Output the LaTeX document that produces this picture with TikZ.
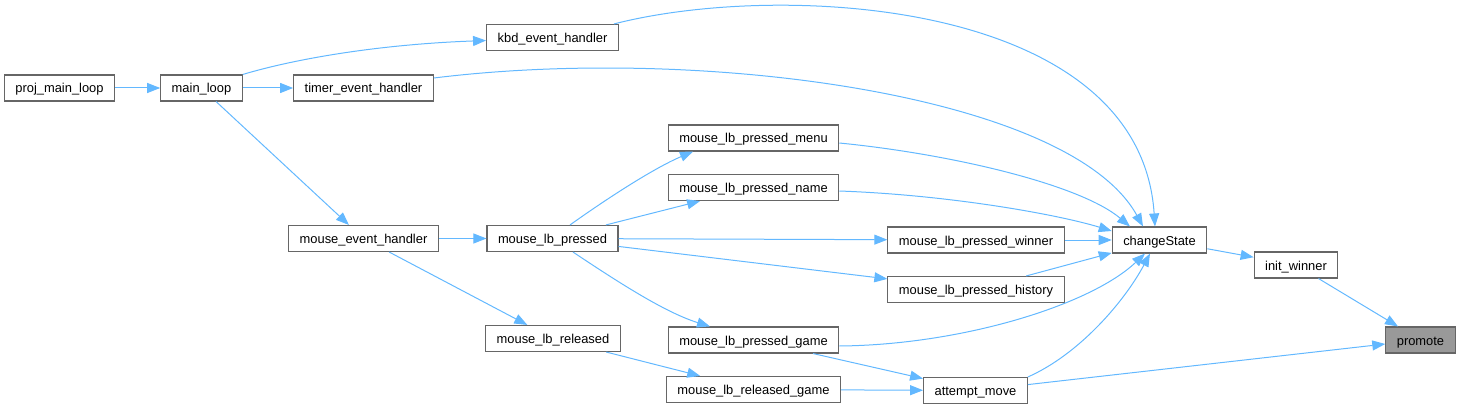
\documentclass[tikz,border=0pt]{standalone}
\usepackage{fontspec}
\setmainfont{Liberation Sans}
\usepackage{tikz}
\usetikzlibrary{arrows.meta}

\begin{document}
\begin{tikzpicture}[x=1pt, y=1pt, font=\fontsize{12.9}{15}\selectfont]

\definecolor{cgedge}{HTML}{63B8FF}
\definecolor{cgborder}{HTML}{666666}
\definecolor{cgfill}{HTML}{FFFFFF}
\definecolor{cgself}{HTML}{999999}

\tikzset{
  fnbox/.style={
    rectangle, draw=cgborder, fill=cgfill, line width=1.1pt,
    minimum height=26pt, inner xsep=11pt, inner ysep=0pt,
    text height=13pt, text depth=3pt
  },
  selfbox/.style={fnbox, fill=cgself},
  calledge/.style={
    draw=cgedge, line width=1pt, -{Triangle[length=13pt,width=10pt]}
  }
}

\useasboundingbox (0,0) rectangle (1460,-409);

% Callers, left to right.
\node[fnbox] (pml)  at (59.5,-88)    {proj\_main\_loop};
\node[fnbox] (ml)   at (201.5,-88)   {main\_loop};
\node[fnbox] (teh)  at (363.5,-88)   {timer\_event\_handler};
\node[fnbox] (keh)  at (552.5,-37.5) {kbd\_event\_handler};
\node[fnbox] (meh)  at (363.5,-238.5) {mouse\_event\_handler};
\node[fnbox] (mlp)  at (552.5,-238.5) {mouse\_lb\_pressed};
\node[fnbox] (mlr)  at (553,-338.5)  {mouse\_lb\_released};
\node[fnbox] (mlpm) at (753.5,-138)  {mouse\_lb\_pressed\_menu};
\node[fnbox] (mlpn) at (753.5,-187.5) {mouse\_lb\_pressed\_name};
\node[fnbox] (mlpg) at (753.5,-340)  {mouse\_lb\_pressed\_game};
\node[fnbox] (mlrg) at (753.5,-389.5) {mouse\_lb\_released\_game};
\node[fnbox] (mlpw) at (976,-240)    {mouse\_lb\_pressed\_winner};
\node[fnbox] (mlph) at (976,-289.5)  {mouse\_lb\_pressed\_history};
\node[fnbox] (am)   at (975.5,-390.5) {attempt\_move};
\node[fnbox] (cs)   at (1159.5,-240) {changeState};
\node[fnbox] (iw)   at (1296,-265)   {init\_winner};

% The documented function.
\node[selfbox] (pr) at (1420.5,-340) {promote};

% Straight calls.
\foreach \from/\to in {
  pml/ml, ml/teh, ml/meh, meh/mlp, meh/mlr,
  mlp/mlpn, mlp/mlpw, mlp/mlph, mlr/mlrg,
  mlpg/am, mlrg/am, am/pr,
  mlpw/cs, mlph/cs, cs/iw, iw/pr}
  \draw[calledge] (\from) -- (\to);

% Curved calls.
\draw[calledge] (ml.north east) .. controls +(50,15) and +(-110,-4) ..
  ([yshift=-3pt]keh.west);
\draw[calledge] ([xshift=-5pt]keh.north east) .. controls +(167,43) and +(-15,227) ..
  ([xshift=-4.5pt]cs.north);
\draw[calledge] ([yshift=10pt]teh.east) .. controls +(267,33) and +(-73,132) ..
  ([xshift=-16.5pt]cs.north);
\draw[calledge] ([yshift=-5pt]mlpm.east) .. controls +(112,-11) and +(-50,42) ..
  ([xshift=-29.5pt]cs.north);
\draw[calledge] ([yshift=-3.5pt]mlpn.east) .. controls +(112,-4) and +(-52,16) ..
  ([yshift=9pt]cs.west);
\draw[calledge] ([xshift=17.5pt]mlp.north) .. controls +(35,25) and +(-40,-17) ..
  ([xshift=-60.5pt]mlpm.south);
\draw[calledge] ([xshift=20.5pt]mlp.south) .. controls +(45,-30) and +(-45,14) ..
  ([xshift=-43.5pt]mlpg.north);
\draw[calledge] ([yshift=-6pt]mlpg.east) .. controls +(121,1) and +(-55,-52) ..
  ([xshift=-14.5pt]cs.south);
\draw[calledge] (am.north east) .. controls +(52,23) and +(-25,-47) ..
  ([xshift=-9.5pt]cs.south);

\end{tikzpicture}
\end{document}
